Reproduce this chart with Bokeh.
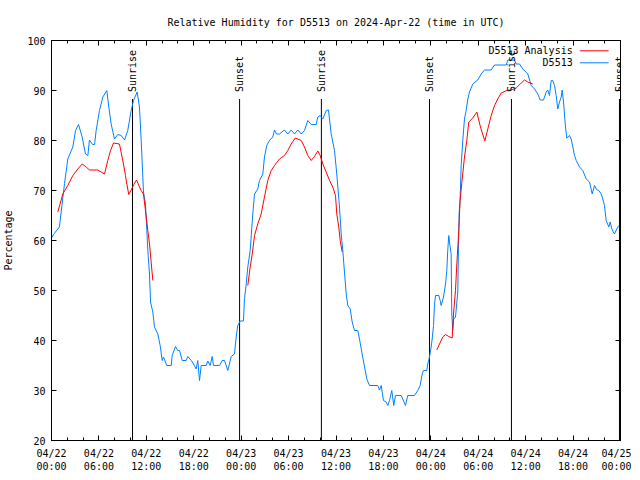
import math
from bokeh.plotting import figure
from bokeh.models import (ColumnDataSource, LinearAxis, FixedTicker, LabelSet, Label, Range1d,
                          CustomJSTickFormatter)
from bokeh.core.properties import value
from bokeh.embed import file_html
from bokeh.resources import INLINE

NAN = float("nan")

# ---------------- data (hours since 2024-04-22 00:00 UTC) ----------------
obs_hours = [
    0.0, 0.25, 1.0, 1.65, 2.06, 2.7, 3.04, 3.42, 3.88, 4.3, 4.6, 4.8, 5.2, 5.45, 5.65, 6.07, 6.5, 7.0, 7.25, 7.55,
    7.97, 8.39, 8.82, 9.24, 9.65, 10.08, 10.38, 10.84, 11.13, 11.35, 11.64, 11.89, 12.06, 12.19,
    12.4, 12.53, 12.82, 13.03, 13.45, 13.75, 14.01, 14.17, 14.59, 15.15, 15.27, 15.69, 15.98, 16.2, 16.54, 17.04,
    17.25, 17.68, 17.97, 18.31, 18.51, 18.73, 18.94, 19.58, 19.78, 20.08, 20.33, 20.5, 21.26, 21.6, 21.89, 22.31,
    22.74, 23.16, 23.37, 23.57, 23.88,
    24.29, 24.42, 24.64, 24.84, 25.14, 25.47, 25.69, 26.1, 26.32, 26.74, 26.95, 27.24, 27.58, 28.0, 28.22, 28.47,
    28.85, 29.48, 29.9, 30.33, 30.75, 31.17, 31.6, 32.01, 32.43, 32.86, 33.49, 33.7, 34.0, 34.33, 34.76, 35.05,
    35.39, 35.81,
    36.1, 36.44, 36.66, 36.86, 37.07, 37.29, 37.49, 37.8, 38.05, 38.34, 38.76, 38.97, 39.31, 39.61, 39.9, 40.24,
    41.29, 41.5, 41.72, 42.01, 42.35, 42.55, 42.77, 43.06, 43.31, 43.53, 44.25, 44.45, 44.79, 45.08, 45.93, 46.35,
    46.65, 46.91, 47.07, 47.49, 47.61, 47.83,
    48.04, 48.17, 48.34, 48.46, 48.59, 49.01, 49.18, 49.31, 49.6, 49.86, 50.02, 50.14, 50.27, 50.42, 50.57, 50.65,
    50.77, 50.9, 51.12, 51.41, 51.5, 51.58, 51.7, 51.84, 52.04, 52.26, 52.47, 52.68, 52.89, 53.31, 53.94, 54.37,
    54.79, 55.64, 56.06, 57.54, 57.74, 58.59, 58.8, 59.22, 59.64,
    60.27, 60.7, 61.12, 61.54, 61.84, 62.26, 62.6, 62.8, 63.01, 63.23, 63.43, 63.65, 63.86, 64.06, 64.28, 64.5,
    64.62, 64.79, 65.04, 65.2, 65.55, 65.76, 65.97, 66.18, 66.4, 66.81, 67.23, 67.66, 68.08, 68.42, 68.71, 68.97,
    69.26, 69.56, 69.76, 69.97, 70.19, 70.52, 70.69, 70.95, 71.24, 71.53, 71.78,
]
obs_rh = [
    60.5, 61.2, 62.7, 71.4, 76.3, 78.7, 82.0, 83.2, 80.7, 77.3, 77.0, 80.1, 79.2, 79.2, 82.0, 86.0, 88.7, 90.0, 86.7, 83.3,
    80.3, 81.2, 81.0, 80.1, 82.0, 86.0, 88.0, 89.7, 86.7, 80.0, 69.7, 67.3, 62.0, 58.0,
    53.3, 47.7, 45.7, 42.7, 41.3, 39.0, 36.0, 36.7, 35.0, 35.0, 37.0, 38.8, 38.0, 38.0, 36.0, 36.0,
    36.8, 36.0, 35.3, 34.3, 36.0, 32.0, 35.0, 35.0, 35.9, 35.0, 36.8, 35.0, 35.0, 36.0, 36.0, 34.0,
    36.8, 37.3, 40.7, 43.0, 43.9,
    43.9, 48.4, 51.3, 54.7, 58.0, 65.3, 69.3, 70.3, 72.0, 73.3, 76.7, 79.0, 80.0, 80.7, 82.1, 81.3,
    81.3, 82.1, 81.3, 82.1, 81.3, 82.1, 81.3, 82.0, 84.0, 83.2, 83.2, 84.7, 85.0, 84.3, 86.0, 86.1,
    81.3, 78.0,
    73.3, 66.7, 61.3, 58.0, 53.7, 49.3, 47.0, 46.3, 43.7, 42.0, 42.0, 40.3, 37.3, 34.7, 32.3, 31.0,
    31.0, 30.1, 31.0, 28.0, 27.7, 27.0, 28.0, 30.0, 27.0, 29.0, 29.0, 28.3, 27.0, 29.0, 29.0, 30.0,
    31.0, 33.3, 34.0, 34.0, 35.3, 36.7,
    38.7, 40.3, 43.0, 47.0, 49.0, 49.0, 48.0, 47.0, 48.7, 51.3, 54.0, 58.0, 61.0, 59.0, 57.3, 45.3,
    42.0, 44.3, 44.7, 49.7, 59.0, 65.3, 68.0, 75.0, 80.0, 84.3, 86.0, 88.3, 89.7, 91.3, 92.1, 93.3,
    94.1, 94.1, 95.1, 95.1, 96.1, 96.1, 95.3, 95.3, 94.3,
    93.3, 91.0, 90.3, 89.3, 88.1, 88.1, 89.7, 90.1, 89.0, 92.0, 92.0, 91.0, 89.0, 86.3, 87.7, 88.7,
    90.1, 87.7, 82.7, 80.5, 81.0, 80.3, 78.7, 77.0, 76.0, 74.7, 74.0, 72.3, 71.7, 69.3, 71.0, 70.2,
    70.0, 69.3, 68.3, 67.0, 64.0, 62.7, 63.7, 62.1, 61.3, 62.3, 63.0,
]

# analysis series (NaN separates the three daytime segments)
ana_hours = [
    0.8, 1.43, 2.06, 2.7, 3.33, 3.88, 4.39, 4.81, 5.86, 6.71, 7.12, 7.47, 7.85, 8.6, 9.11, 9.36, 9.53, 9.78,
    10.08, 10.41, 10.76, 11.05, 11.35, 11.64, 11.89, 12.19, 12.4, 12.82,
    NAN,
    24.84, 25.14, 25.4, 25.69, 26.1, 26.53, 26.95, 27.37, 27.8, 28.22, 28.85, 29.48, 29.9, 30.33, 30.84, 31.6,
    32.01, 32.43, 32.86, 33.28, 33.7, 34.0, 34.33, 34.76, 35.18, 35.59, 35.94, 36.1, 36.35, 36.53, 36.78,
    NAN,
    48.75, 49.1, 49.51, 49.86, 50.27, 50.7, 50.87, 51.12, 51.29, 51.54, 51.7, 51.95, 52.26, 52.55, 52.8, 53.31,
    53.82, 54.28, 54.83, 55.21, 55.64, 56.06, 56.47, 56.9, 57.61, 58.17, 58.8, 59.31, 59.85, 60.27, 60.9,
]
ana_rh = [
    65.7, 69.3, 71.0, 73.0, 74.3, 75.3, 74.7, 74.1, 74.1, 73.3, 76.0, 78.0, 79.5, 79.3, 75.3, 73.0, 71.3, 69.2,
    70.1, 71.2, 72.1, 71.0, 70.0, 69.3, 66.0, 62.0, 59.3, 52.0,
    NAN,
    51.0, 54.7, 57.3, 61.0, 63.3, 65.3, 68.7, 72.0, 74.0, 75.0, 76.3, 77.0, 78.0, 79.3, 80.5, 80.0,
    78.7, 77.0, 76.0, 76.8, 77.9, 77.0, 75.3, 73.7, 72.0, 70.7, 69.0, 65.3, 62.7, 60.0, 57.7,
    NAN,
    38.1, 39.3, 40.7, 41.2, 40.8, 40.5, 45.3, 50.0, 55.3, 62.0, 68.0, 72.0, 76.7, 80.0, 83.7, 84.5,
    85.7, 82.7, 79.9, 82.3, 85.0, 87.0, 88.3, 89.5, 90.0, 90.1, 90.5, 91.3, 92.1, 91.7, 91.3,
]

event_hours = [10.25, 23.8, 34.15, 47.83, 58.2, 71.87]
event_names = ["Sunrise", "Sunset", "Sunrise", "Sunset", "Sunrise", "Sunset"]

x_tick_hours = [0, 6, 12, 18, 24, 30, 36, 42, 48, 54, 60, 66, 72]
x_tick_labels = ["04/22\n00:00", "04/22\n06:00", "04/22\n12:00", "04/22\n18:00",
                 "04/23\n00:00", "04/23\n06:00", "04/23\n12:00", "04/23\n18:00",
                 "04/24\n00:00", "04/24\n06:00", "04/24\n12:00", "04/24\n18:00",
                 "04/25\n00:00"]
y_ticks = [20, 30, 40, 50, 60, 70, 80, 90, 100]

series_names = ["D5513 Analysis", "D5513"]
series_colors = ["#ff0000", "#0080ff"]

# ---------------- styling ----------------
FONT = "DejaVu Sans Mono"
FS = "10px"
EVENT_LINE_TOP = 88.3
EVENT_LABEL_Y = 89.7

p = figure(frame_width=569, frame_height=400,
           x_range=Range1d(0, 72), y_range=Range1d(20, 100),
           output_backend="svg", toolbar_location=None,
           min_border_left=44, min_border_right=11, min_border_top=40, min_border_bottom=32,
           title="Relative Humidity for D5513 on 2024-Apr-22 (time in UTC)",
           x_axis_type=None, y_axis_type=None)
p.title.align = "center"
p.title.text_font = FONT
p.title.text_font_size = FS
p.title.text_font_style = "normal"
p.title.text_color = "black"
p.title.standoff = 26
p.outline_line_color = "black"
p.outline_line_width = 1
p.background_fill_color = "white"
p.border_fill_color = "white"

minor_x = list(range(0, 73, 2))


def style_axis(ax):
    ax.axis_line_color = "black"
    ax.major_tick_in = 5
    ax.major_tick_out = 0
    ax.minor_tick_in = 3
    ax.minor_tick_out = 0
    ax.major_tick_line_color = "black"
    ax.minor_tick_line_color = "black"
    ax.major_label_text_font = FONT
    ax.major_label_text_font_size = FS
    ax.major_label_text_color = "black"
    ax.major_label_standoff = 6


def mirror_axis(ax):
    style_axis(ax)
    ax.formatter = CustomJSTickFormatter(code="return ''")
    ax.major_label_standoff = 0


xb = LinearAxis(ticker=FixedTicker(ticks=x_tick_hours, minor_ticks=minor_x))
style_axis(xb)
xb.major_label_overrides = {h: lab for h, lab in zip(x_tick_hours, x_tick_labels)}
xb.major_label_standoff = 7
p.add_layout(xb, "below")

xt = LinearAxis(ticker=FixedTicker(ticks=x_tick_hours, minor_ticks=minor_x))
mirror_axis(xt)
p.add_layout(xt, "above")

yl = LinearAxis(ticker=FixedTicker(ticks=y_ticks, minor_ticks=[]))
style_axis(yl)
yl.axis_label = "Percentage"
yl.axis_label_text_font = FONT
yl.axis_label_text_font_size = FS
yl.axis_label_text_font_style = "normal"
yl.axis_label_text_color = "black"
yl.axis_label_standoff = 10
p.add_layout(yl, "left")

yr = LinearAxis(ticker=FixedTicker(ticks=y_ticks, minor_ticks=[]))
mirror_axis(yr)
p.add_layout(yr, "right")

p.xgrid.visible = False
p.ygrid.visible = False

# event (sunrise / sunset) lines
ev = ColumnDataSource(dict(x=event_hours, name=event_names,
                           y0=[20] * len(event_hours), y1=[EVENT_LINE_TOP] * len(event_hours),
                           ly=[EVENT_LABEL_Y] * len(event_hours)))
p.segment(x0="x", y0="y0", x1="x", y1="y1", source=ev, line_color="black", line_width=1)
p.add_layout(LabelSet(x="x", y="ly", text="name", source=ev, angle=math.pi / 2,
                      text_align="left", text_baseline="middle",
                      text_font=value(FONT), text_font_size=value(FS), text_color="black"))

# data series
p.line(obs_hours, obs_rh, line_color=series_colors[1], line_width=1)
p.line(ana_hours, ana_rh, line_color=series_colors[0], line_width=1)

# key (gnuplot style: label then sample, top right)
key_rows_y = [97.94, 95.54]
for name, col, ky in zip(series_names, series_colors, key_rows_y):
    p.add_layout(Label(x=65.95, y=ky, text=name, text_align="right", text_baseline="middle",
                       text_font=FONT, text_font_size=FS, text_color="black"))
    p.segment(x0=[66.85], y0=[ky], x1=[70.5], y1=[ky], line_color=col, line_width=1)

open("out.html", "w").write(file_html(p, INLINE))
